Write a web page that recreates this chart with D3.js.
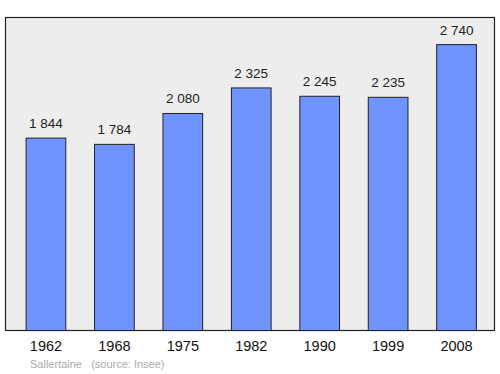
<!DOCTYPE html>
<html>
<head>
<meta charset="utf-8">
<script src="https://cdn.jsdelivr.net/npm/d3@7"></script>
<style>
  body { margin: 0; background: #fff; }
  text { font-family: "Liberation Sans", Arial, sans-serif; }
</style>
</head>
<body>
<div id="chart"></div>
<script>
var years = ['1962', '1968', '1975', '1982', '1990', '1999', '2008'];
var population = [1844, 1784, 2080, 2325, 2245, 2235, 2740];
var labels = ['1 844', '1 784', '2 080', '2 325', '2 245', '2 235', '2 740'];

var w = 500, h = 374;
var plotLeft = 5.5, plotRight = 494.5, plotTop = 17.5, plotBottom = 330.5;

var svg = d3.select('#chart').append('svg')
    .attr('width', w)
    .attr('height', h);

svg.append('rect')
    .attr('x', plotLeft)
    .attr('y', plotTop)
    .attr('width', plotRight - plotLeft)
    .attr('height', plotBottom - plotTop)
    .attr('fill', '#ededed')
    .attr('stroke', '#222')
    .attr('stroke-width', 1.2);

var xScale = d3.scaleBand()
    .domain(years)
    .range([plotLeft + 3.5, plotRight - 1])
    .paddingInner(0.42)
    .paddingOuter(0.25);

var yScale = d3.scaleLinear()
    .domain([0, 3000])
    .range([plotBottom, plotTop]);

svg.selectAll('rect.bar')
    .data(population)
    .enter()
    .append('rect')
    .attr('class', 'bar')
    .attr('x', function (d, i) { return xScale(years[i]); })
    .attr('y', function (d) { return yScale(d); })
    .attr('width', xScale.bandwidth())
    .attr('height', function (d) { return plotBottom - yScale(d); })
    .attr('fill', '#7094ff')
    .attr('stroke', '#222')
    .attr('stroke-width', 1);

svg.selectAll('text.val')
    .data(population)
    .enter()
    .append('text')
    .attr('class', 'val')
    .attr('x', function (d, i) { return xScale(years[i]) + xScale.bandwidth() / 2; })
    .attr('y', function (d) { return yScale(d) - 10; })
    .attr('text-anchor', 'middle')
    .attr('font-size', 13.5)
    .attr('fill', '#222')
    .text(function (d, i) { return labels[i]; });

var xAxis = svg.append('g')
    .attr('transform', 'translate(0,' + plotBottom + ')')
    .call(d3.axisBottom(xScale).tickSize(0).tickPadding(10));
xAxis.select('.domain').remove();
xAxis.selectAll('text')
    .attr('font-size', 14.5)
    .attr('font-family', '"Liberation Sans", Arial, sans-serif')
    .attr('fill', '#111');

svg.append('text')
    .attr('x', 30)
    .attr('y', 368)
    .attr('font-size', 11)
    .attr('fill', '#aaa')
    .attr('xml:space', 'preserve')
    .text('Sallertaine   (source: Insee)');
</script>
</body>
</html>
